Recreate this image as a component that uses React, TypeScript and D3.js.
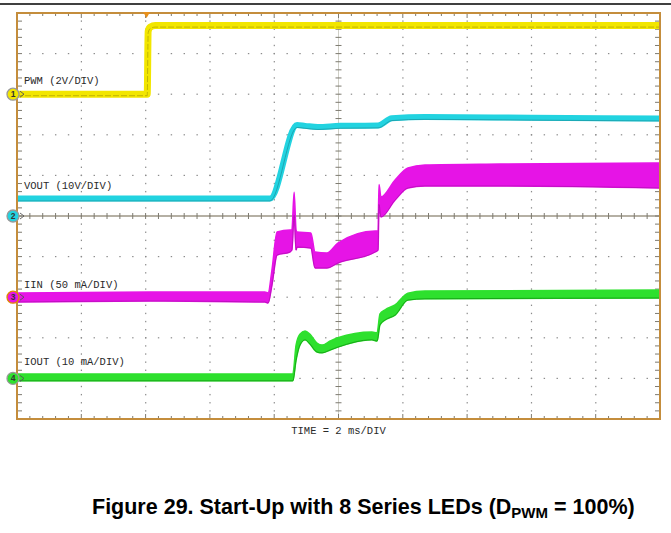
import React from 'react';
import * as d3 from 'd3';

// time axis in ms (2 ms/div, 10 div)
const pwmTime = [0, 4.05, 4.08, 4.14, 4.3, 20];
const pwmVolts = [0, 0, 3.1, 3.3, 3.38, 3.38];

const voutTime = [0, 7.87, 8.71, 8.96, 9.36, 10.05, 11.23, 11.66, 12.69, 16, 20];
const voutVolts = [4.3, 4.3, 22.4, 22.2, 21.9, 22.2, 22.3, 24.1, 24.4, 24.2, 24.0];

const iinTime = [0, 4.14, 7.71, 7.81, 7.93, 8.09, 8.49, 8.55, 8.62, 8.68, 8.71, 9.14, 9.27, 9.64, 9.98, 11.14, 11.23, 11.26, 11.32, 11.76, 12.16, 12.69, 15.02, 20];
const iinHigh = [5.2, 6.4, 6.4, 5.2, 33.5, 80.3, 82.8, 82.8, 129.1, 82.8, 80.3, 79.1, 55.7, 54.4, 66.7, 81.5, 81.5, 138.9, 123.4, 144.3, 159.1, 162.8, 164.0, 165.3];
const iinLow = [-5.9, -4.7, -5.9, -7.1, 15.0, 52.0, 55.7, 58.1, 101.0, 58.1, 61.8, 60.6, 36.0, 36.0, 42.1, 55.7, 58.1, 114.3, 98.8, 119.7, 134.5, 137.0, 137.0, 134.5];

const ioutTime = [0, 8.58, 8.68, 8.8, 8.96, 9.11, 9.33, 9.49, 9.74, 9.98, 11.04, 11.2, 11.29, 11.45, 11.76, 12.16, 12.69, 20];
const ioutHigh = [1.1, 1.1, 8.2, 10.9, 11.7, 10.9, 8.7, 8.2, 9.2, 10.0, 11.4, 11.2, 15.9, 16.9, 18.1, 21.0, 21.5, 21.8];
const ioutLow = [-0.6, -0.6, 4.5, 8.2, 9.5, 8.5, 6.5, 6.3, 7.0, 7.7, 9.5, 9.2, 13.2, 14.4, 15.6, 19.3, 19.6, 19.8];

// channel: units per division, marker offset and label row in divisions
const channels = [
  { id: 1, label: 'PWM (2V/DIV)', perDiv: 2, offset: 3, labelDiv: 3.25, color: '#f2e600', edge: '#b5a800', ring: '#999' },
  { id: 2, label: 'VOUT (10V/DIV)', perDiv: 10, offset: 0, labelDiv: 0.66, color: '#22d3e0', edge: '#1a9aa6', ring: '#999' },
  { id: 3, label: 'IIN (50 mA/DIV)', perDiv: 50, offset: -2, labelDiv: -1.77, color: '#e614e6', edge: '#a00aa0', ring: '#e08a00' },
  { id: 4, label: 'IOUT (10 mA/DIV)', perDiv: 10, offset: -4, labelDiv: -3.67, color: '#2ee02e', edge: '#129a12', ring: '#999' },
];

const W = 671;
const H = 533;
const left = 17, right = 660, top = 13, bottom = 419;

const x = d3.scaleLinear().domain([0, 20]).range([left, right]);
const yDiv = d3.scaleLinear().domain([-5, 5]).range([bottom, top]);
const chY = (ch: number, v: number) => yDiv(channels[ch].offset + v / channels[ch].perDiv);

const majorX = d3.range(0, 21, 2);
const minorX = d3.range(0, 20.01, 0.4);
const majorY = d3.range(-5, 5.01, 1);
const minorY = d3.range(-5, 5.01, 0.2);

const App: React.FC = () => {
  const lineFor = (ch: number, ts: number[], vs: number[]) =>
    d3.line<number>().x((_, i) => x(ts[i])).y((v) => chY(ch, v)).curve(d3.curveMonotoneX)(vs) || '';

  const bandFor = (ch: number, ts: number[], hi: number[], lo: number[]) =>
    d3.area<number>()
      .x((_, i) => x(ts[i]))
      .y0((_, i) => chY(ch, lo[i]))
      .y1((_, i) => chY(ch, hi[i]))
      .curve(d3.curveMonotoneX)(ts) || '';

  const lowEdge = (ch: number, ts: number[], lo: number[]) =>
    d3.line<number>().x((_, i) => x(ts[i])).y((_, i) => chY(ch, lo[i])).curve(d3.curveMonotoneX)(ts) || '';

  const dots: JSX.Element[] = [];
  majorX.slice(1, -1).forEach((t) => {
    if (t === 10) return;
    minorY.slice(1, -1).forEach((d, j) => {
      dots.push(<rect key={`vx${t}-${j}`} x={x(t) - 0.5} y={yDiv(d) - 0.7} width={1.2} height={1.4} fill="#8c8c8c" />);
    });
  });
  majorY.slice(1, -1).forEach((d) => {
    if (d === 0) return;
    minorX.slice(1, -1).forEach((t, j) => {
      dots.push(<rect key={`hy${d}-${j}`} x={x(t) - 0.6} y={yDiv(d) - 0.6} width={1.4} height={1.2} fill="#8c8c8c" />);
    });
  });

  const isMajorX = (t: number) => Math.abs(t / 2 - Math.round(t / 2)) < 1e-6;

  return (
    <svg width={W} height={H} style={{ position: 'absolute', left: 0, top: 0, background: '#fff' }}>
      <rect x={0} y={0} width={W} height={H} fill="#fff" />
      <line x1={0} x2={W} y1={4} y2={4} stroke="#000" strokeWidth={1.6} />

      {/* grid */}
      <g>{dots}</g>

      {/* centre crosshair */}
      <line x1={x(10)} x2={x(10)} y1={top} y2={bottom} stroke="#cfcfc6" strokeWidth={1} />
      <line x1={left} x2={right} y1={yDiv(0)} y2={yDiv(0)} stroke="#9c9686" strokeWidth={1.3} />
      {minorX.map((t, i) => (
        <line key={`cx${i}`} x1={x(t)} x2={x(t)} y1={yDiv(0) - 3} y2={yDiv(0) + 3} stroke="#7d7a70" strokeWidth={1} />
      ))}
      {minorY.map((d, i) => (
        <line key={`cy${i}`} x1={x(10) - 3} x2={x(10) + 3} y1={yDiv(d)} y2={yDiv(d)} stroke="#7d7a70" strokeWidth={1} />
      ))}

      {/* border ticks */}
      {minorY.map((d, i) => (
        <g key={`by${i}`}>
          <line x1={left} x2={left + 5} y1={yDiv(d)} y2={yDiv(d)} stroke="#7d7a70" strokeWidth={1} />
          <line x1={right - 5} x2={right} y1={yDiv(d)} y2={yDiv(d)} stroke="#7d7a70" strokeWidth={1} />
        </g>
      ))}
      {minorX.map((t, i) => (
        <g key={`bx${i}`}>
          <line x1={x(t)} x2={x(t)} y1={top} y2={top + (isMajorX(t) ? 5 : 3)} stroke="#7d7a70" strokeWidth={1} />
          <line x1={x(t)} x2={x(t)} y1={bottom} y2={bottom - (isMajorX(t) ? 5 : 3)} stroke="#7d7a70" strokeWidth={1} />
        </g>
      ))}

      {/* traces */}
      <defs>
        <clipPath id="plot">
          <rect x={left} y={top} width={right - left} height={bottom - top} />
        </clipPath>
      </defs>
      <g clipPath="url(#plot)">
        <path d={lineFor(0, pwmTime, pwmVolts)} fill="none" stroke={channels[0].color} strokeWidth={7} />
        <path d={lineFor(0, pwmTime, pwmVolts)} fill="none" stroke={channels[0].edge} strokeWidth={0.8} strokeDasharray="6 2" transform="translate(0,1.5)" />

        <path d={lineFor(1, voutTime, voutVolts)} fill="none" stroke={channels[1].color} strokeWidth={6} />
        <path d={lineFor(1, voutTime, voutVolts)} fill="none" stroke={channels[1].edge} strokeWidth={0.8} transform="translate(0,2.4)" />

        <path d={bandFor(2, iinTime, iinHigh, iinLow)} fill={channels[2].color} stroke={channels[2].color} strokeWidth={1.5} />
        <path d={lowEdge(2, iinTime, iinLow)} fill="none" stroke={channels[2].edge} strokeWidth={0.8} opacity={0.7} />

        <path d={bandFor(3, ioutTime, ioutHigh, ioutLow)} fill={channels[3].color} stroke={channels[3].color} strokeWidth={1.5} />
        <path d={lowEdge(3, ioutTime, ioutLow)} fill="none" stroke={channels[3].edge} strokeWidth={1} opacity={0.8} />
      </g>

      {/* frame */}
      <rect x={left} y={top} width={right - left} height={bottom - top} fill="none" stroke="#c48d3c" strokeWidth={2} />

      {/* trigger marker */}
      <path d={`M${x(4.03) - 3.5},${top - 1} L${x(4.03) + 3.5},${top - 1} L${x(4.03)},${top + 5} Z`} fill="#e8901c" />

      {/* channel labels and markers */}
      {channels.map((c) => {
        const cy = yDiv(c.offset);
        return (
          <g key={c.id}>
            <text x={24} y={yDiv(c.labelDiv)} fontFamily="'Liberation Mono', monospace" fontSize={10.5} fill="#2a2a2a">
              {c.label}
            </text>
            <path d={`M20,${cy - 3} L24,${cy} L20,${cy + 3}`} fill="none" stroke="#555" strokeWidth={0.9} />
            <circle cx={13} cy={cy} r={6} fill={c.color} stroke={c.ring} strokeWidth={1.3} />
            <text x={13} y={cy + 3} textAnchor="middle" fontFamily="'Liberation Sans', Arial, sans-serif" fontSize={8.5} fontWeight="bold" fill="#333">
              {c.id}
            </text>
          </g>
        );
      })}

      <text x={x(10)} y={434} textAnchor="middle" fontFamily="'Liberation Mono', monospace" fontSize={10.5} fill="#2a2a2a">
        TIME = 2 ms/DIV
      </text>

      <text x={92} y={514} fontFamily="'Liberation Sans', Arial, sans-serif" fontSize={21.5} fontWeight="bold" fill="#000">
        Figure 29. Start-Up with 8 Series LEDs (D
        <tspan fontSize={15} dy={4}>PWM</tspan>
        <tspan dy={-4}> = 100%)</tspan>
      </text>
    </svg>
  );
};

export default App;
